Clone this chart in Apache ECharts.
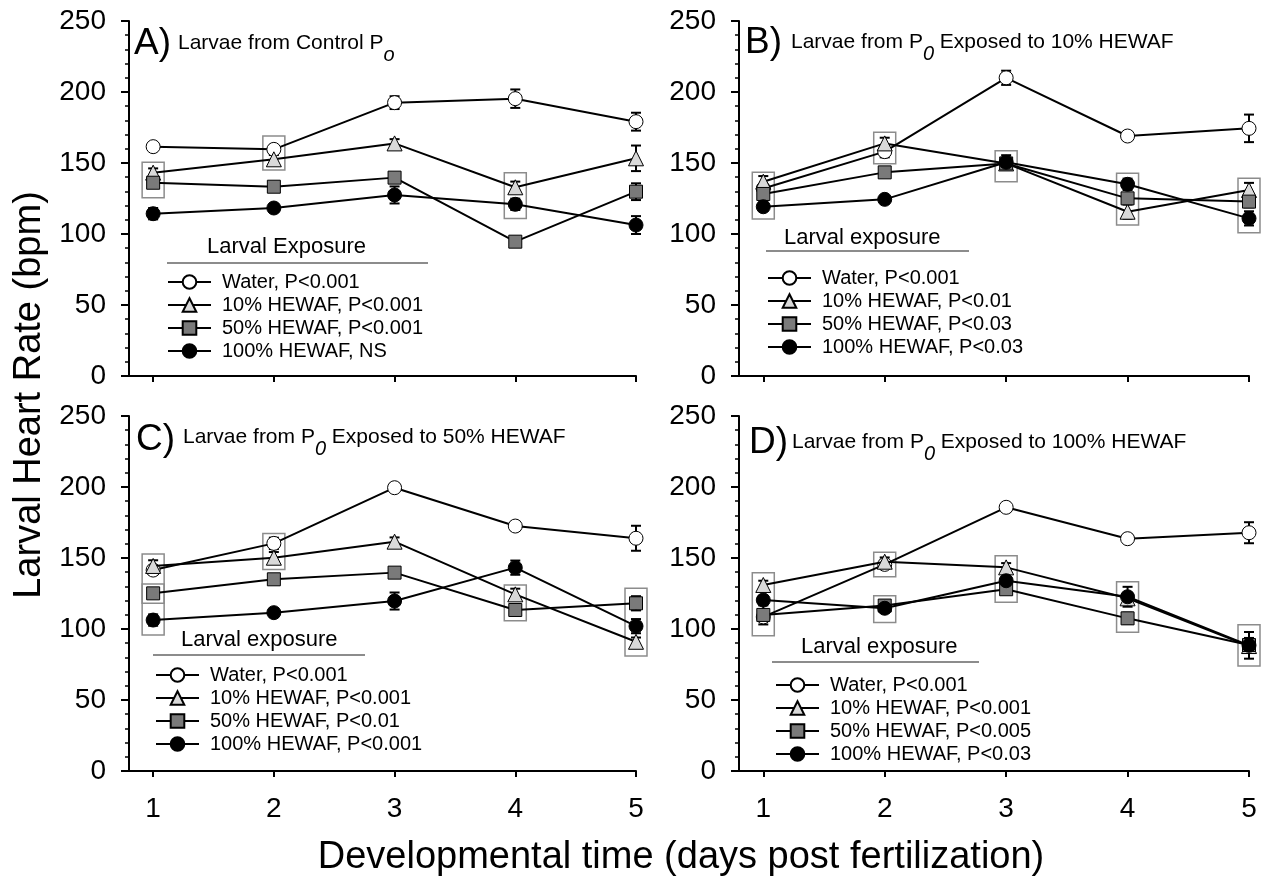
<!DOCTYPE html>
<html>
<head>
<meta charset="utf-8">
<script src="https://cdn.jsdelivr.net/npm/echarts@6/dist/echarts.min.js"></script>
<style>
html, body { margin: 0; padding: 0; background: #fff; }
#chart { width: 1261px; height: 886px; }
</style>
</head>
<body>
<div id="chart"></div>
<script>
const days = [1, 2, 3, 4, 5];
const yTicks = [0, 50, 100, 150, 200, 250];

// mean heart rate (bpm); rows: water, 10%, 50%, 100% HEWAF
const rateA = [
  [161.5, 159.6, 192.5, 195.3, 179.1],
  [143.2, 152.6, 163.8, 132.9, 153.3],
  [136.1, 133.3, 139.7, 94.6, 129.8],
  [114.3, 118.3, 127.5, 120.9, 106.3],
];
const rateB = [
  [132.0, 158.0, 210.0, 169.0, 174.4],
  [136.8, 163.8, 149.7, 115.7, 131.0],
  [128.2, 143.4, 149.7, 125.1, 122.8],
  [119.2, 124.4, 150.5, 135.0, 111.0],
];
const rateC = [
  [141.5, 160.3, 199.5, 172.5, 163.9],
  [144.4, 150.2, 161.5, 124.4, 91.0],
  [125.1, 135.0, 139.7, 113.4, 118.1],
  [106.3, 111.5, 119.7, 143.2, 102.0],
];
const rateD = [
  [108.5, 145.5, 185.7, 163.6, 167.8],
  [131.0, 147.4, 143.4, 121.6, 88.0],
  [109.9, 116.5, 128.0, 107.5, 88.7],
  [120.4, 114.6, 134.0, 122.7, 88.5],
];

// standard errors
const errA = [
  [2, 3, 4.5, 6.5, 6.3],
  [3, 3, 3, 4, 9],
  [3, 3, 3, 3, 5.9],
  [4, 2, 6, 4, 6.3],
];
const errB = [
  [3, 4, 5, 3, 9.7],
  [4, 4, 3, 5, 5],
  [3, 3, 3, 3, 4],
  [3, 2, 5, 4, 5],
];
const errC = [
  [3, 4, 3, 3, 8.8],
  [4, 4, 3, 4, 3],
  [3, 3, 3, 4, 5],
  [4, 3, 6, 5, 5],
];
const errD = [
  [3, 3, 3, 3, 7.4],
  [3, 3, 3, 4, 4],
  [6.7, 3, 3, 4, 5],
  [3, 3, 5, 7, 9.4],
];

// significance boxes: [day, low, high]
const boxesA = [[1, 125.5, 150.5], [2, 145, 169], [4, 111, 143.2]];
const boxesB = [[1, 110.6, 143.4], [2, 149.5, 171.6], [3, 136.8, 158.7], [4, 106.3, 142.7], [5, 100.9, 139.2]];
const boxesC = [[1, 118.1, 152.8], [1, 95.8, 131.7], [2, 141.9, 167.3], [4, 105.8, 131], [5, 81, 128.7]];
const boxesD = [[1, 95.2, 139.7], [2, 136.8, 154], [2, 104.5, 123.5], [3, 118.8, 151.6], [4, 97.7, 133.3], [5, 74, 103]];

const legendA = ['Water, P<0.001', '10% HEWAF, P<0.001', '50% HEWAF, P<0.001', '100% HEWAF, NS'];
const legendB = ['Water, P<0.001', '10% HEWAF, P<0.01', '50% HEWAF, P<0.03', '100% HEWAF, P<0.03'];
const legendC = ['Water, P<0.001', '10% HEWAF, P<0.001', '50% HEWAF, P<0.01', '100% HEWAF, P<0.001'];
const legendD = ['Water, P<0.001', '10% HEWAF, P<0.001', '50% HEWAF, P<0.005', '100% HEWAF, P<0.03'];

const FONT = '"Liberation Sans", Arial, sans-serif';

const markers = [
  { symbol: 'circle', size: 14, fill: '#ffffff' },
  { symbol: 'triangle', size: 15, fill: '#d9d9d9' },
  { symbol: 'rect', size: 13, fill: '#7a7a7a' },
  { symbol: 'circle', size: 14, fill: '#000000' },
];

const panels = [
  { rate: rateA, err: errA, boxes: boxesA, names: legendA, grid: { left: 129, top: 21, width: 507, height: 355 }, showX: false,
    legend: { left: 162, top: 267 }, letter: 'A)', letterPos: [134, 44],
    title: '{t|Larvae from Control P}{s|o}', titlePos: [178, 33],
    legTitle: 'Larval Exposure', legTitlePos: [207, 247], line: [167, 428, 263] },
  { rate: rateB, err: errB, boxes: boxesB, names: legendB, grid: { left: 739, top: 21, width: 510, height: 355 }, showX: false,
    legend: { left: 762, top: 263 }, letter: 'B)', letterPos: [745, 43],
    title: '{t|Larvae from P}{s|0}{t| Exposed to 10% HEWAF}', titlePos: [791, 32],
    legTitle: 'Larval exposure', legTitlePos: [784, 238], line: [766, 969, 251] },
  { rate: rateC, err: errC, boxes: boxesC, names: legendC, grid: { left: 129, top: 416, width: 507, height: 355 }, showX: true,
    legend: { left: 150, top: 660 }, letter: 'C)', letterPos: [136, 440],
    title: '{t|Larvae from P}{s|0}{t| Exposed to 50% HEWAF}', titlePos: [183, 427],
    legTitle: 'Larval exposure', legTitlePos: [181, 640], line: [153, 365, 655] },
  { rate: rateD, err: errD, boxes: boxesD, names: legendD, grid: { left: 739, top: 416, width: 510, height: 355 }, showX: true,
    legend: { left: 770, top: 670 }, letter: 'D)', letterPos: [749, 443],
    title: '{t|Larvae from P}{s|0}{t| Exposed to 100% HEWAF}', titlePos: [792, 432],
    legTitle: 'Larval exposure', legTitlePos: [801, 647], line: [772, 979, 662] },
];

const chart = echarts.init(document.getElementById('chart'));

const grids = [], xAxes = [], yAxes = [], legends = [], series = [], graphics = [];

panels.forEach((p, pi) => {
  grids.push(p.grid);
  xAxes.push({
    type: 'value', gridIndex: pi, min: 0.8, max: 5,
    axisLine: { show: true, onZero: false, lineStyle: { color: '#000', width: 2 } },
    axisTick: { show: true, customValues: days, length: 6, lineStyle: { color: '#000', width: 2 } },
    axisLabel: { show: p.showX, customValues: days, margin: 24, fontSize: 28, color: '#000', fontFamily: FONT },
    splitLine: { show: false },
  });
  yAxes.push({
    type: 'value', gridIndex: pi, min: 0, max: 250, interval: 50,
    axisLine: { show: true, lineStyle: { color: '#000', width: 2 } },
    axisTick: { show: true, length: 8, lineStyle: { color: '#000', width: 2 } },
    minorTick: { show: true, splitNumber: 5, length: 4, lineStyle: { color: '#000', width: 1.5 } },
    axisLabel: { margin: 23, fontSize: 28, color: '#000', fontFamily: FONT },
    splitLine: { show: false },
  });
  legends.push({
    orient: 'vertical', left: p.legend.left, top: p.legend.top,
    itemWidth: 43, itemHeight: 17, itemGap: 3, selectedMode: false,
    data: p.names,
    textStyle: { fontSize: 20, color: '#000', fontFamily: FONT, padding: [0, 0, 0, 6] },
  });

  // significance boxes
  series.push({
    type: 'custom', xAxisIndex: pi, yAxisIndex: pi, z: 1, silent: true, clip: false,
    data: p.boxes,
    encode: { x: 0, y: [1, 2] },
    renderItem: (params, api) => {
      const hi = api.coord([api.value(0), api.value(2)]);
      const lo = api.coord([api.value(0), api.value(1)]);
      return {
        type: 'rect',
        shape: { x: hi[0] - 11, y: hi[1], width: 22, height: lo[1] - hi[1] },
        style: { fill: 'none', stroke: '#8c8c8c', lineWidth: 1.5 },
      };
    },
  });

  p.rate.forEach((vals, si) => {
    const m = markers[si];
    // error bars
    series.push({
      type: 'custom', xAxisIndex: pi, yAxisIndex: pi, z: 2, silent: true, clip: false,
      data: days.map((d, i) => [d, vals[i] - p.err[si][i], vals[i] + p.err[si][i]]),
      encode: { x: 0, y: [1, 2] },
      renderItem: (params, api) => {
        const hi = api.coord([api.value(0), api.value(2)]);
        const lo = api.coord([api.value(0), api.value(1)]);
        const st = { stroke: '#000', lineWidth: 2 };
        return {
          type: 'group',
          children: [
            { type: 'line', shape: { x1: hi[0], y1: hi[1], x2: lo[0], y2: lo[1] }, style: st },
            { type: 'line', shape: { x1: hi[0] - 5, y1: hi[1], x2: hi[0] + 5, y2: hi[1] }, style: st },
            { type: 'line', shape: { x1: lo[0] - 5, y1: lo[1], x2: lo[0] + 5, y2: lo[1] }, style: st },
          ],
        };
      },
    });
    series.push({
      type: 'line', name: p.names[si], xAxisIndex: pi, yAxisIndex: pi, z: 3 + si, clip: false,
      data: days.map((d, i) => [d, vals[i]]),
      symbol: m.symbol, symbolSize: m.size, showSymbol: true,
      lineStyle: { color: '#000', width: 2 },
      itemStyle: { color: m.fill, borderColor: '#000', borderWidth: 1 },
      emphasis: { disabled: true },
    });
  });

  graphics.push(
    { type: 'text', style: { x: p.letterPos[0], y: p.letterPos[1], text: p.letter, font: '37px ' + FONT, fill: '#000', verticalAlign: 'middle' } },
    { type: 'text', style: {
      x: p.titlePos[0], y: p.titlePos[1], text: p.title, verticalAlign: 'top',
      rich: {
        t: { fontSize: 21, fontFamily: FONT, fill: '#000', lineHeight: 22, verticalAlign: 'top' },
        s: { fontSize: 20, fontFamily: FONT, fontStyle: 'italic', fill: '#000', lineHeight: 32, verticalAlign: 'bottom' },
      },
    } },
    { type: 'text', style: { x: p.legTitlePos[0], y: p.legTitlePos[1], text: p.legTitle, font: '22px ' + FONT, fill: '#000', verticalAlign: 'middle' } },
    { type: 'line', shape: { x1: p.line[0], y1: p.line[2], x2: p.line[1], y2: p.line[2] }, style: { stroke: '#666', lineWidth: 1.5 } }
  );
});

graphics.push(
  { type: 'text', x: 30, y: 395, rotation: Math.PI / 2,
    style: { x: 0, y: 0, text: 'Larval Heart Rate (bpm)', font: '38px ' + FONT, fill: '#000', align: 'center', verticalAlign: 'middle' } },
  { type: 'text', style: { x: 681, y: 858, text: 'Developmental time (days post fertilization)', font: '38px ' + FONT, fill: '#000', align: 'center', verticalAlign: 'middle' } }
);

chart.setOption({
  animation: false,
  backgroundColor: '#fff',
  grid: grids,
  xAxis: xAxes,
  yAxis: yAxes,
  legend: legends,
  series: series,
  graphic: graphics,
});
</script>
</body>
</html>
